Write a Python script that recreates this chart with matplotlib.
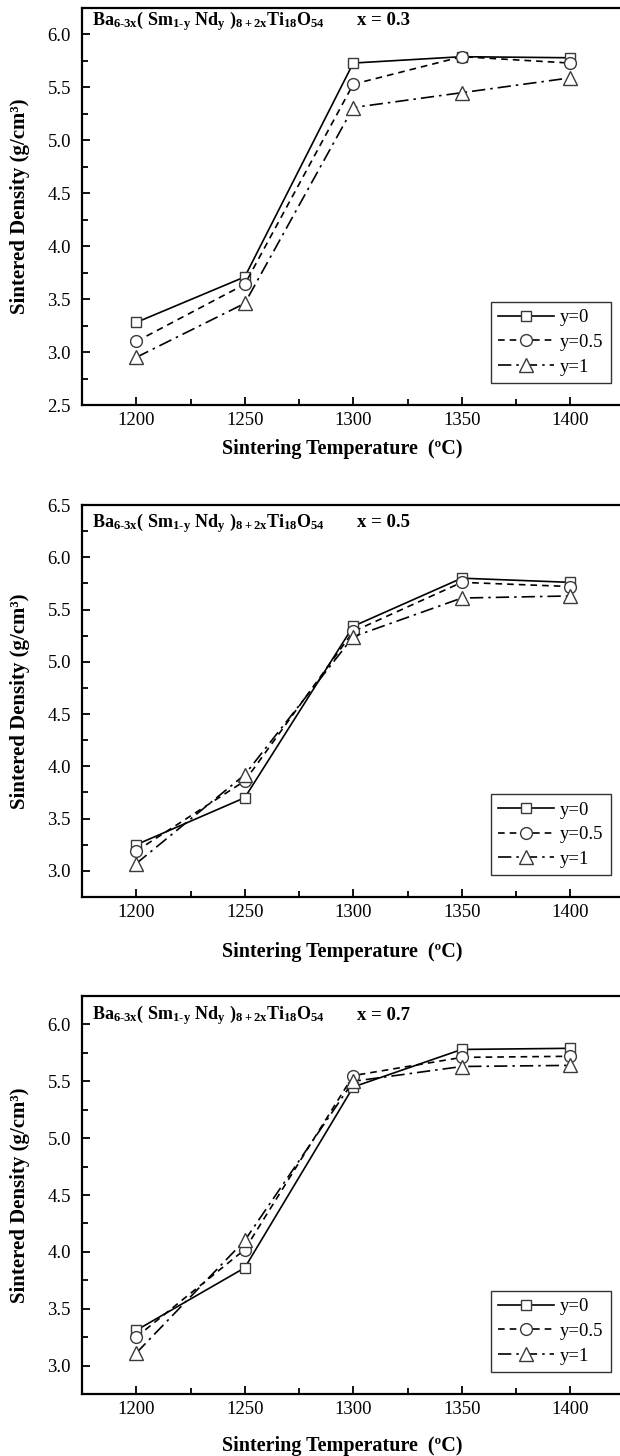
import matplotlib
matplotlib.use("Agg")
import matplotlib.pyplot as plt
from matplotlib.ticker import MultipleLocator

plt.rcParams['font.family'] = ['Liberation Serif', 'DejaVu Serif']
plt.rcParams['mathtext.fontset'] = 'custom'
plt.rcParams['mathtext.rm'] = 'Liberation Serif:bold'
plt.rcParams['mathtext.it'] = 'Liberation Serif:bold'
plt.rcParams['mathtext.bf'] = 'Liberation Serif:bold'

temps = [1200, 1250, 1300, 1350, 1400]
series_labels = ["y=0", "y=0.5", "y=1"]
x_values = ["0.3", "0.5", "0.7"]

# x = 0.3
d03_y0 = [3.28, 3.71, 5.73, 5.79, 5.78]
d03_y05 = [3.10, 3.64, 5.53, 5.79, 5.73]
d03_y1 = [2.95, 3.46, 5.31, 5.45, 5.59]
# x = 0.5
d05_y0 = [3.25, 3.70, 5.34, 5.80, 5.76]
d05_y05 = [3.19, 3.86, 5.29, 5.76, 5.72]
d05_y1 = [3.07, 3.92, 5.24, 5.61, 5.63]
# x = 0.7
d07_y0 = [3.31, 3.86, 5.45, 5.78, 5.79]
d07_y05 = [3.25, 4.02, 5.55, 5.71, 5.72]
d07_y1 = [3.11, 4.10, 5.50, 5.63, 5.64]

panels = [
    (d03_y0, d03_y05, d03_y1),
    (d05_y0, d05_y05, d05_y1),
    (d07_y0, d07_y05, d07_y1),
]
ylims = [(2.5, 6.25), (2.75, 6.5), (2.75, 6.25)]

# axes boxes in figure pixels: top, bottom
W, H = 620, 1456
boxes = [(8, 405), (505, 897), (996, 1394)]
left_px, right_px = 82, 624.5
formula_y = [0.968, 0.955, 0.952]
xlabel_off = [34, 45, 42]

styles = [
    dict(ls='-', marker='s', ms=7.5),
    dict(ls=(0, (4, 3)), marker='o', ms=8.5),
    dict(ls=(0, (8, 3, 1.5, 3)), marker='^', ms=10),
]

fig = plt.figure(figsize=(W / 100, H / 100), dpi=100)

for i, data in enumerate(panels):
    top, bot = boxes[i]
    ax = fig.add_axes([left_px / W, 1 - bot / H, (right_px - left_px) / W, (bot - top) / H])
    for vals, st, lab in zip(data, styles, series_labels):
        ax.plot(temps, vals, color='black', lw=1.2, ls=st['ls'], marker=st['marker'],
                ms=st['ms'], mfc='white', mec='#3a3a3a', mew=1.0, label=lab)
    ax.set_xlim(1175, 1425)
    ax.set_ylim(*ylims[i])
    ax.set_xticks(temps)
    ax.xaxis.set_minor_locator(MultipleLocator(25))
    ax.yaxis.set_major_locator(MultipleLocator(0.5))
    ax.yaxis.set_minor_locator(MultipleLocator(0.25))
    ax.yaxis.set_major_formatter(matplotlib.ticker.FormatStrFormatter('%.1f'))
    ax.tick_params(which='both', direction='in', top=False, right=False, labelsize=13.5, width=1.3)
    ax.tick_params(which='major', length=6)
    ax.tick_params(which='minor', length=4)
    ax.tick_params(axis='x', pad=5)
    ax.tick_params(axis='y', pad=8)
    for s in ax.spines.values():
        s.set_linewidth(1.6)
    ax.set_xlabel("Sintering Temperature  (ºC)", fontsize=14.5, fontweight='bold')
    ax.set_ylabel("Sintered Density (g/cm³)", fontsize=15, fontweight='bold')
    ax.yaxis.set_label_coords(-52 / (right_px - left_px), 0.5)
    ax.xaxis.set_label_coords(0.5 - 0.02, -xlabel_off[i] / (bot - top))
    ax.text(0.018, formula_y[i],
            r'$Ba_{6\text{-}3x}(\ Sm_{1\text{-}y}\ Nd_{y}\ )_{8+2x}Ti_{18}O_{54}$',
            transform=ax.transAxes, fontsize=13, va='center', ha='left')
    ax.text(0.507, formula_y[i], "x = " + x_values[i], transform=ax.transAxes,
            fontsize=13.5, fontweight='bold', va='center', ha='left')
    leg = ax.legend(loc='lower right', bbox_to_anchor=(0.975, 0.055), borderaxespad=0,
                    fancybox=False, edgecolor='black', fontsize=13.5, handlelength=3.0,
                    handletextpad=0.3, labelspacing=0.4, borderpad=0.4)
    leg.get_frame().set_linewidth(1.0)

fig.savefig("out.png", dpi=100)
